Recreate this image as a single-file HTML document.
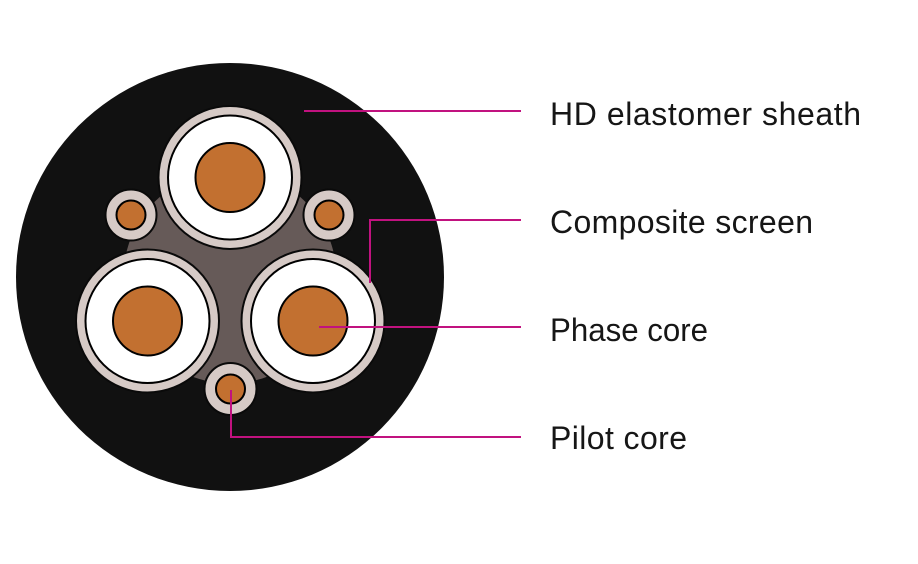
<!DOCTYPE html>
<html>
<head>
<meta charset="utf-8">
<style>
  html, body { margin: 0; padding: 0; background: #ffffff; }
  body { width: 918px; height: 564px; overflow: hidden; }
  svg { display: block; }
  text { font-family: "Liberation Sans", "DejaVu Sans", sans-serif; font-size: 32px; fill: #161616; }
</style>
</head>
<body>
<svg width="918" height="564" viewBox="0 0 918 564" xmlns="http://www.w3.org/2000/svg">
  <rect x="0" y="0" width="918" height="564" fill="#ffffff"/>
  <!-- outer sheath -->
  <circle cx="230" cy="277" r="214" fill="#111111"/>
  <!-- filler -->
  <circle cx="230" cy="277" r="106.5" fill="#665a58"/>

  <!-- small cores -->
  <g>
    <circle cx="131" cy="215" r="25.5" fill="#d6cac6" stroke="#0a0a0a" stroke-width="2"/>
    <circle cx="131" cy="215" r="14.5" fill="#c27030" stroke="#000" stroke-width="2"/>
    <circle cx="329" cy="215" r="25.5" fill="#d6cac6" stroke="#0a0a0a" stroke-width="2"/>
    <circle cx="329" cy="215" r="14.5" fill="#c27030" stroke="#000" stroke-width="2"/>
    <circle cx="230.5" cy="389" r="26" fill="#d6cac6" stroke="#0a0a0a" stroke-width="2"/>
    <circle cx="230.5" cy="389" r="14.5" fill="#c27030" stroke="#000" stroke-width="2"/>
  </g>

  <!-- phase cores -->
  <g>
    <circle cx="230" cy="177.5" r="71.5" fill="#d6cac6" stroke="#0a0a0a" stroke-width="2"/>
    <circle cx="230" cy="177.5" r="62" fill="#ffffff" stroke="#000" stroke-width="2"/>
    <circle cx="230" cy="177.5" r="34.5" fill="#c27030" stroke="#000" stroke-width="2"/>

    <circle cx="147.5" cy="321" r="71.5" fill="#d6cac6" stroke="#0a0a0a" stroke-width="2"/>
    <circle cx="147.5" cy="321" r="62" fill="#ffffff" stroke="#000" stroke-width="2"/>
    <circle cx="147.5" cy="321" r="34.5" fill="#c27030" stroke="#000" stroke-width="2"/>

    <circle cx="313" cy="321" r="71.5" fill="#d6cac6" stroke="#0a0a0a" stroke-width="2"/>
    <circle cx="313" cy="321" r="62" fill="#ffffff" stroke="#000" stroke-width="2"/>
    <circle cx="313" cy="321" r="34.5" fill="#c27030" stroke="#000" stroke-width="2"/>
  </g>

  <!-- leader lines -->
  <g fill="none" stroke="#c1127f" stroke-width="2">
    <polyline points="304,111 521,111"/>
    <polyline points="370,283 370,220 521,220"/>
    <polyline points="319,327 521,327"/>
    <polyline points="231,390 231,437 521,437"/>
  </g>

  <!-- labels -->
  <text x="550" y="125" textLength="311" lengthAdjust="spacing">HD elastomer sheath</text>
  <text x="550" y="233" textLength="263" lengthAdjust="spacing">Composite screen</text>
  <text x="550" y="341" textLength="158" lengthAdjust="spacingAndGlyphs">Phase core</text>
  <text x="550" y="449" textLength="137" lengthAdjust="spacing">Pilot core</text>
</svg>
</body>
</html>
